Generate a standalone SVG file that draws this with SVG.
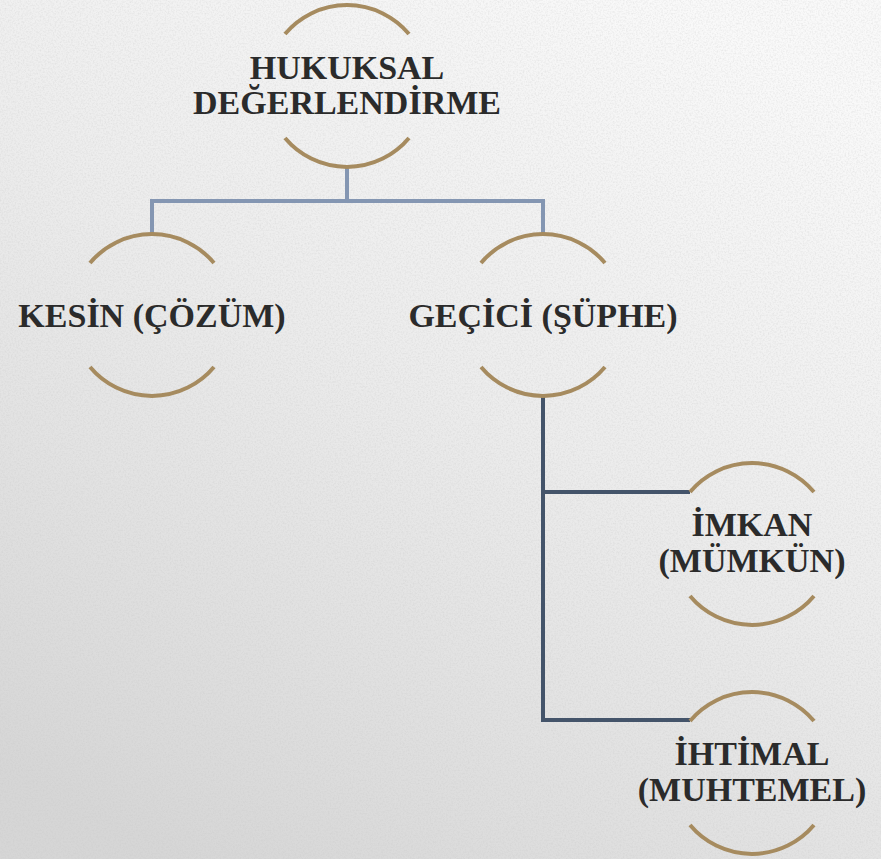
<svg xmlns="http://www.w3.org/2000/svg" width="881" height="859" viewBox="0 0 881 859">
  <defs>
    <linearGradient id="bg" x1="0.75" y1="0" x2="0.2" y2="1">
      <stop offset="0" stop-color="#f9f9f9"/>
      <stop offset="0.45" stop-color="#ececec"/>
      <stop offset="1" stop-color="#d6d6d6"/>
    </linearGradient>
    <filter id="noise" x="0" y="0" width="100%" height="100%">
      <feTurbulence type="fractalNoise" baseFrequency="0.6" numOctaves="2" seed="3" result="t"/>
      <feColorMatrix in="t" type="matrix" values="0 0 0 0 0.55  0 0 0 0 0.55  0 0 0 0 0.55  0 0 0 -2 1.2"/>
    </filter>
    <style>
      .arc { fill: none; stroke: #a68b5f; stroke-width: 4; }
      .lbl { font-family: "Liberation Serif", "Times New Roman", serif; font-weight: bold; font-size: 34px; fill: #2b2b2b; text-anchor: middle; }
      .c1 { fill: none; stroke: #8496b2; stroke-width: 4; }
      .c2 { fill: none; stroke: #44546a; stroke-width: 4; }
    </style>
  </defs>
  <rect width="881" height="859" fill="url(#bg)"/>
  <rect width="881" height="859" filter="url(#noise)" opacity="0.3"/>

  <g id="connectors">
    <path class="c1" d="M347 167 V201 M152 234 V201 H543 V234"/>
    <path class="c2" d="M543 397 V720 H690 M543 492 H690"/>
  </g>

  <g id="node-hukuksal">
    <path class="arc" d="M285 34 A81 81 0 0 1 409 34"/>
    <path class="arc" d="M285 138 A81 81 0 0 0 409 138"/>
    <text class="lbl" x="347" y="79">HUKUKSAL</text>
    <text class="lbl" x="347" y="114">DEĞERLENDİRME</text>
  </g>

  <g id="node-kesin">
    <path class="arc" d="M90 263 A81 81 0 0 1 214 263"/>
    <path class="arc" d="M90 367 A81 81 0 0 0 214 367"/>
    <text class="lbl" x="152" y="327">KESİN (ÇÖZÜM)</text>
  </g>

  <g id="node-gecici">
    <path class="arc" d="M481 263 A81 81 0 0 1 605 263"/>
    <path class="arc" d="M481 367 A81 81 0 0 0 605 367"/>
    <text class="lbl" x="543" y="327">GEÇİCİ (ŞÜPHE)</text>
  </g>

  <g id="node-imkan">
    <path class="arc" d="M690 492 A81 81 0 0 1 814 492"/>
    <path class="arc" d="M690 596 A81 81 0 0 0 814 596"/>
    <text class="lbl" x="752" y="536">İMKAN</text>
    <text class="lbl" x="752" y="572">(MÜMKÜN)</text>
  </g>

  <g id="node-ihtimal">
    <path class="arc" d="M690 721 A81 81 0 0 1 814 721"/>
    <path class="arc" d="M690 825 A81 81 0 0 0 814 825"/>
    <text class="lbl" x="752" y="765">İHTİMAL</text>
    <text class="lbl" x="752" y="801">(MUHTEMEL)</text>
  </g>
</svg>
